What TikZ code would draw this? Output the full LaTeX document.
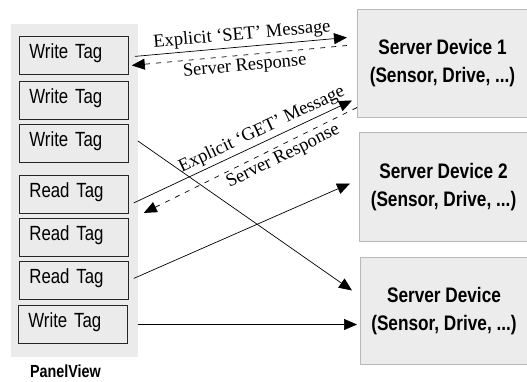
\documentclass[tikz,border=0pt]{standalone}
\usepackage{fontspec}
\setmainfont{Liberation Serif}
\newfontfamily\narrowsans[FakeStretch=0.82]{Liberation Sans}
\usetikzlibrary{arrows.meta,positioning,calc}
\definecolor{panelgray}{RGB}{235,235,235}
\definecolor{servergray}{RGB}{236,236,236}
\definecolor{serveredge}{RGB}{185,185,185}
\tikzset{
  panel/.style   ={rectangle, fill=panelgray, inner sep=0pt, anchor=north west},
  tagbox/.style  ={rectangle, draw=black!85, fill=panelgray, line width=0.8pt,
    anchor=north west, text width=89pt, inner xsep=10pt, inner ysep=0pt,
    text height=22pt, text depth=16pt, align=left,
    font=\narrowsans\fontsize{20.5}{24}\selectfont},
  server/.style  ={rectangle, draw=serveredge, fill=servergray, line width=1pt,
    anchor=north west, align=center,
    font=\narrowsans\bfseries\fontsize{21}{28}\selectfont},
  msg/.style     ={line width=0.7pt, -{Triangle[length=13pt,width=11pt]}},
  reply/.style   ={msg, dash pattern=on 5pt off 6pt},
  msglabel/.style={sloped, inner sep=3pt, font=\fontsize{18.5}{20}\selectfont}}

\begin{document}
\begin{tikzpicture}[x=1pt, y=-1pt]
\useasboundingbox (0,0) rectangle (527,381);
% PanelView with its tags
\node (panel) [panel, minimum width=127pt, minimum height=333pt] at (11,24) {};
\node (w1) [tagbox] at (19,36)  {Write Tag};
\node (w2) [tagbox] at (19,81)  {Write Tag};
\node (w3) [tagbox] at (19,124) {Write Tag};
\node (r1) [tagbox] at (19,175) {Read Tag};
\node (r2) [tagbox] at (19,218) {Read Tag};
\node (r3) [tagbox] at (19,261) {Read Tag};
\node (w4) [tagbox] at (18,305) {Write Tag};
\node (pvname) [font=\narrowsans\bfseries\fontsize{17.5}{20}\selectfont, anchor=base,
  inner sep=1pt] at (65.5,377.5) {PanelView};
% servers
\node (s1) [server, minimum width=170pt, minimum height=108pt] at (357,9)
  {Server Device 1\\(Sensor, Drive, ...)};
\node (s2) [server, minimum width=168pt, minimum height=109pt] at (359,132)
  {Server Device 2\\(Sensor, Drive, ...)};
\node (s3) [server, minimum width=167pt, minimum height=107pt] at (360,257)
  {Server Device\\(Sensor, Drive, ...)};
% explicit messages
\draw[msg] ($(w1.east)+(6,1)$) --
  node[msglabel, above, pos=.51] {Explicit ‘SET’ Message} ($(s1.west)+(-10,-26)$);
\draw[reply] ($(s1.west)+(-10,-18)$) --
  node[msglabel, below, pos=.48] {Server Response} ($(w1.east)+(3,10)$);
\draw[msg] ($(r1.east)+(5,8.5)$) --
  node[msglabel, above, pos=.61] {Explicit ‘GET’ Message} ($(s1.west)+(-5,37)$);
\draw[reply] ($(s1.west)+(0,44)$) --
  node[msglabel, below, pos=.37] {Server Response} ($(r1.east)+(15,18.5)$);
% tag links
\draw[msg] ($(w3.east)+(9,-2.5)$) -- ($(s3.west)+(-8,-20.5)$);
\draw[msg] ($(r3.east)+(5,-2)$) -- ($(s2.west)+(-9,-3.5)$);
\draw[msg] ($(w4.east)+(10,0)$) -- ($(s3.west)+(-3,13.5)$);
\end{tikzpicture}
\end{document}
